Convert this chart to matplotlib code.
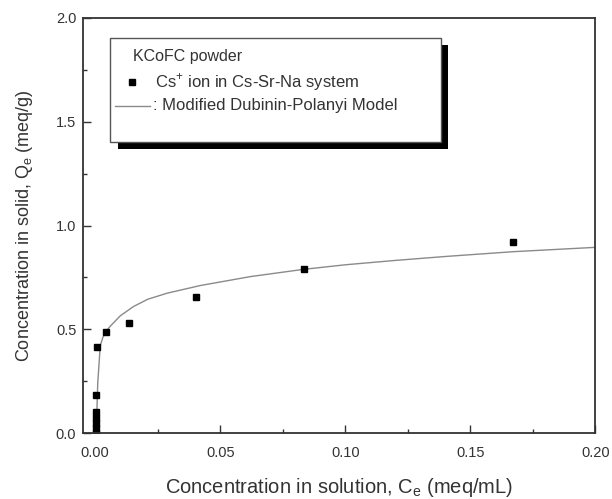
import matplotlib
matplotlib.use("Agg")
import matplotlib.pyplot as plt
from matplotlib.patches import Rectangle

plt.rcParams['font.family'] = ['Liberation Sans', 'DejaVu Sans']
plt.rcParams['mathtext.fontset'] = 'custom'
plt.rcParams['mathtext.rm'] = 'Liberation Sans'

# measured points (Cs+ ion in Cs-Sr-Na system)
ce_data = [0.0005, 0.0005, 0.0005, 0.0005, 0.0005, 0.0004, 0.0007, 0.0043, 0.0135, 0.0404, 0.0833, 0.1670]
qe_data = [0.000, 0.025, 0.050, 0.075, 0.100, 0.185, 0.417, 0.487, 0.530, 0.655, 0.789, 0.919]

# modified Dubinin-Polanyi curve
ce_fit = [0.0004, 0.0010, 0.0020, 0.0030, 0.0043, 0.0060, 0.0100, 0.0153, 0.0210,
          0.0287, 0.0420, 0.0620, 0.0833, 0.1000, 0.1200, 0.1400, 0.1670, 0.2000]
qe_fit = [0.000, 0.240, 0.420, 0.460, 0.490, 0.515, 0.565, 0.610, 0.645,
          0.674, 0.711, 0.754, 0.789, 0.811, 0.832, 0.851, 0.874, 0.895]

x_ticks = [0.00, 0.05, 0.10, 0.15, 0.20]
y_ticks = [0.0, 0.5, 1.0, 1.5, 2.0]

dark = '#333333'

fig = plt.figure(figsize=(6.12, 4.99), dpi=100)
ax = fig.add_axes([0.136, 0.132, 0.837, 0.832])

ax.plot(ce_fit, qe_fit, color='#8a8a8a', lw=1.0)
ax.plot(ce_data, qe_data, 's', color='black', ms=5, mec='black')

ax.set_xlim(-0.0048, 0.2)
ax.set_ylim(0, 2.0)
ax.set_xticks(x_ticks)
ax.set_xticklabels(['%.2f' % v for v in x_ticks])
ax.set_yticks(y_ticks)
ax.set_yticklabels(['%.1f' % v for v in y_ticks])
ax.set_xticks([0.025, 0.075, 0.125, 0.175], minor=True)
ax.set_yticks([0.25, 0.75, 1.25, 1.75], minor=True)
ax.tick_params(which='both', direction='in', colors=dark, labelsize=10.5, width=1.0)
ax.tick_params(which='major', length=6)
ax.tick_params(axis='x', which='major', pad=9)
ax.tick_params(axis='y', which='major', pad=5)
ax.tick_params(which='minor', length=3)
for s in ax.spines.values():
    s.set_color(dark)
    s.set_linewidth(1.3)

ax.set_xlabel('Concentration in solution, C$_\\mathregular{e}$ (meq/mL)', fontsize=14.5,
              color=dark, labelpad=12)
ax.set_ylabel('Concentration in solid, Q$_\\mathregular{e}$ (meq/g)', fontsize=13,
              color=dark, labelpad=15)

# legend box with heavy drop shadow
ax.add_patch(Rectangle((0.067, 0.685), 0.645, 0.25, transform=ax.transAxes,
                       facecolor='black', edgecolor='none', zorder=5))
ax.add_patch(Rectangle((0.053, 0.702), 0.645, 0.25, transform=ax.transAxes,
                       facecolor='white', edgecolor='#555555', lw=1.0, zorder=6))
ax.text(0.098, 0.906, 'KCoFC powder', transform=ax.transAxes, fontsize=11.5,
        color=dark, va='center', zorder=7)
ax.plot([0.095], [0.845], 's', color='black', ms=4.5, transform=ax.transAxes, zorder=7)
ax.text(0.141, 0.845, 'Cs$^\\mathregular{+}$ ion in Cs-Sr-Na system', transform=ax.transAxes,
        fontsize=12, color=dark, va='center', zorder=7)
ax.plot([0.0625, 0.131], [0.788, 0.788], color='#8a8a8a', lw=1.0, transform=ax.transAxes, zorder=7)
ax.text(0.137, 0.788, ': Modified Dubinin-Polanyi Model', transform=ax.transAxes,
        fontsize=12, color=dark, va='center', zorder=7)

fig.savefig('out.png', dpi=100)
